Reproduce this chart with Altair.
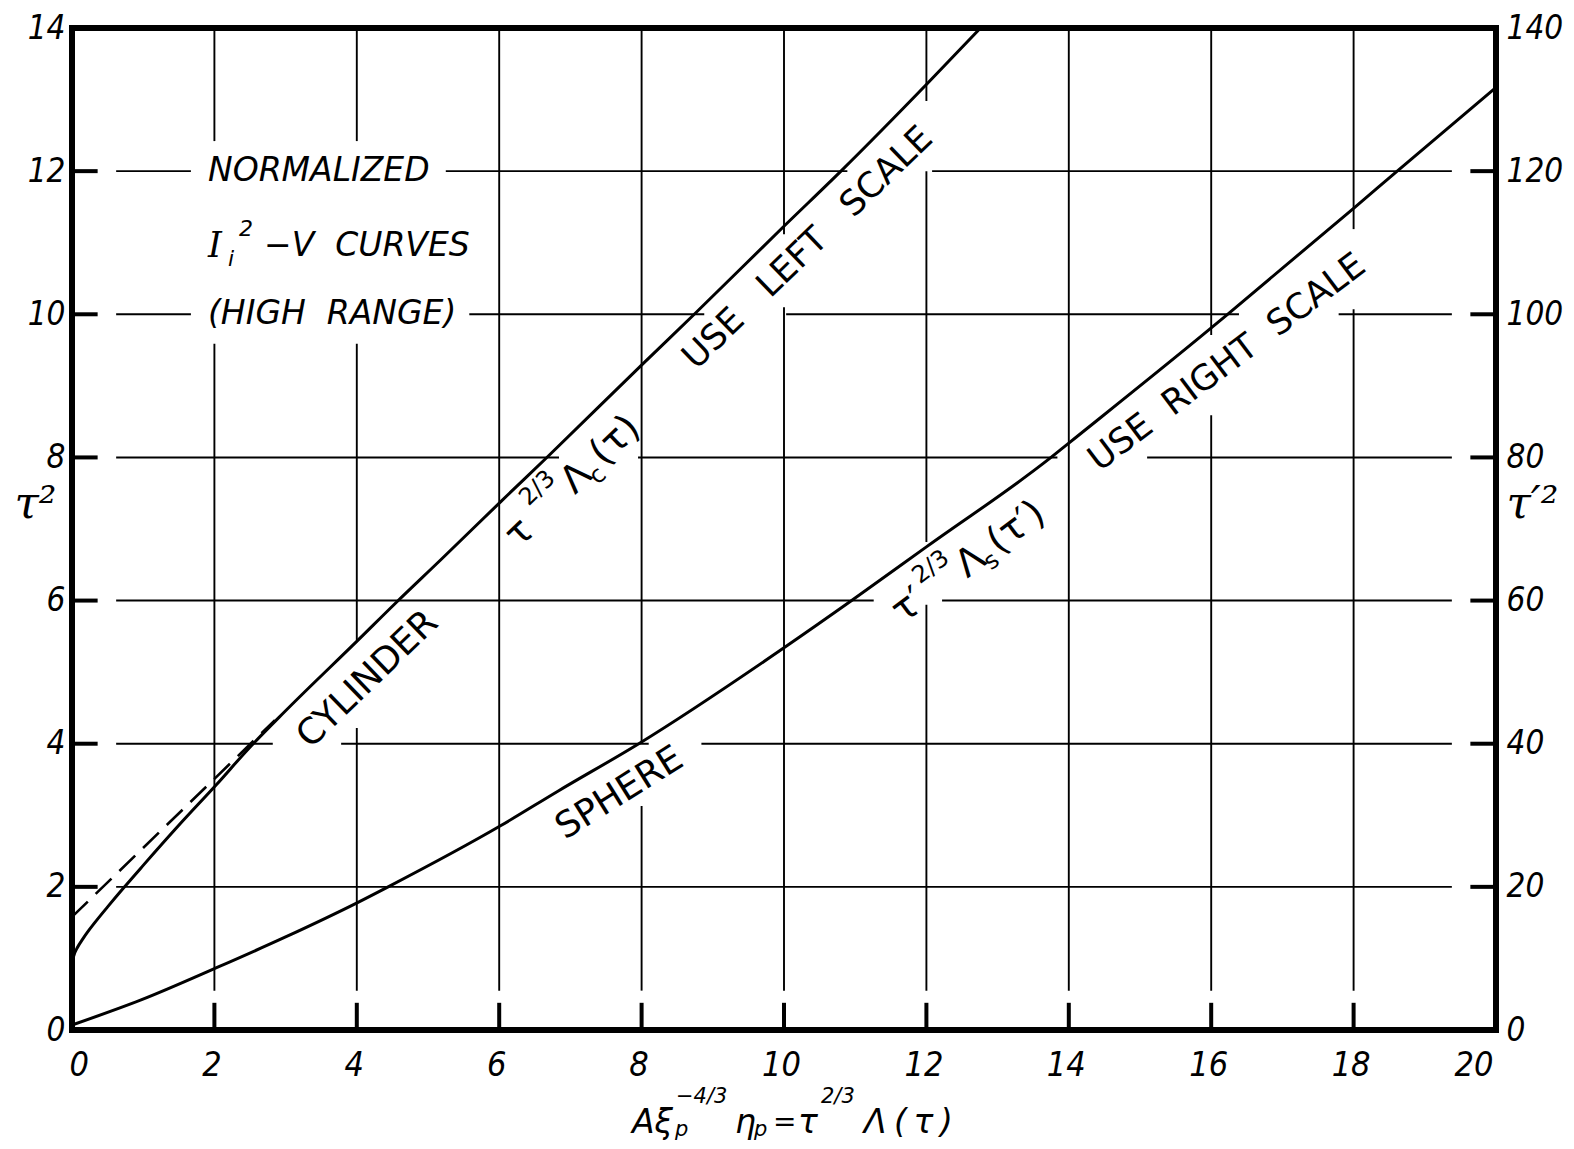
import altair as alt
import pandas as pd

# ---------------- data ----------------
# Cylinder curve (left scale, tau^2)
cyl_x = [0.0, 0.02, 0.08, 0.15, 0.22, 0.32, 0.5, 0.72, 1.0, 1.5, 2.03, 2.47, 3.0,
         4.01, 4.55, 5.18, 6.03, 6.68, 8.01, 8.74, 10.01, 10.8, 12.01, 12.76]
cyl_y = [0.93, 1.02, 1.16, 1.27, 1.37, 1.50, 1.72, 1.98, 2.30, 2.86, 3.43, 3.92, 4.46,
         5.44, 5.97, 6.57, 7.39, 8.01, 9.30, 10.0, 11.24, 12.0, 13.22, 14.0]
# Dashed asymptote of the cylinder curve (left scale)
asym_x = [0.0, 2.85]
asym_y = [1.58, 4.33]
# Sphere curve (right scale, tau'^2)
sph_x = [0.0, 0.97, 2.03, 3.0, 4.01, 4.44, 6.03, 6.83, 7.96, 10.0, 10.95, 12.0,
         13.75, 14.0, 16.0, 16.23, 18.0, 18.6, 20.0]
sph_y = [0.7, 4.2, 8.7, 13.0, 17.8, 20.0, 28.6, 33.4, 40.0, 53.4, 60.0, 67.5,
         80.0, 82.0, 98.1, 100.0, 114.8, 119.9, 131.7]

x_ticks = [0, 2, 4, 6, 8, 10, 12, 14, 16, 18, 20]
left_ticks = [0, 2, 4, 6, 8, 10, 12, 14]
right_ticks = [0, 20, 40, 60, 80, 100, 120, 140]

# Grid lines (hand-drawn, with gaps around the lettering)
grid_xs = [2, 4, 6, 8, 10, 12, 14, 16, 18]
grid_x_gaps = [[(9.59, 12.42)], [(4.22, 5.45), (9.59, 12.42)], [], [(3.13, 4.0)],
               [(10.1, 11.12)], [(5.94, 6.82), (12.0, 12.98)], [], [(8.59, 9.71)],
               [(10.07, 11.19)]]
grid_ys = [2, 4, 6, 8, 10, 12]
grid_y_gaps = [[], [(2.82, 3.78), (8.1, 8.84)], [(11.26, 12.22)],
               [(6.84, 7.95), (13.84, 15.1)],
               [(1.67, 5.58), (8.88, 10.03), (16.39, 17.79)],
               [(1.67, 5.25), (10.89, 12.08)]]
vgrid_span = (0.55, 14.0)
hgrid_span = (0.62, 19.38)
bottom_tick_span = (0.0, 0.38)
left_tick_span = (0.0, 0.36)
right_tick_span = (19.64, 20.0)

# ---------------- build tables ----------------
def split(lo, hi, gaps):
    segs, cur = [], lo
    for a, b in sorted(gaps):
        segs.append((cur, a))
        cur = b
    segs.append((cur, hi))
    return segs

vrows, hrows = [], []
for gx, gaps in zip(grid_xs, grid_x_gaps):
    for a, b in split(vgrid_span[0], vgrid_span[1], gaps):
        vrows.append({"x": gx, "y": a, "y2": b})
for gy, gaps in zip(grid_ys, grid_y_gaps):
    for a, b in split(hgrid_span[0], hgrid_span[1], gaps):
        hrows.append({"y": gy, "x": a, "x2": b})
vgrid = pd.DataFrame(vrows)
hgrid = pd.DataFrame(hrows)

vtick = pd.DataFrame({"x": grid_xs, "y": bottom_tick_span[0], "y2": bottom_tick_span[1]})
htick = pd.DataFrame(
    [{"y": gy, "x": left_tick_span[0], "x2": left_tick_span[1]} for gy in grid_ys]
    + [{"y": gy, "x": right_tick_span[0], "x2": right_tick_span[1]} for gy in grid_ys]
)

cyl = pd.DataFrame({"x": cyl_x, "y": cyl_y})
asym = pd.DataFrame({"x": asym_x, "y": asym_y})
sph = pd.DataFrame({"x": sph_x, "y": sph_y})

# ---------------- scales / axes ----------------
NUM_FONT = "Liberation Sans Narrow, DejaVu Sans Condensed, sans-serif"
TXT_FONT = "DejaVu Sans"
xs = alt.Scale(domain=[0, 20], nice=False, zero=False)
ys = alt.Scale(domain=[0, 14], nice=False, zero=False)
yr = alt.Scale(domain=[0, 140], nice=False, zero=False)

x_axis = alt.Axis(values=x_ticks, ticks=False, domain=False, grid=False,
                  labelPadding=18, labelOffset=-3, labelFont=NUM_FONT, labelFontSize=34,
                  labelFontStyle="italic", labelColor="black", title=None)
left_axis = alt.Axis(values=left_ticks, ticks=False, domain=False, grid=False,
                     labelPadding=7, labelFont=NUM_FONT, labelFontSize=33,
                     labelFontStyle="italic", labelColor="black",
                     title="τ²", titleAngle=0, titleFont="DejaVu Serif",
                     titleFontSize=44, titleFontStyle="italic", titleFontWeight="normal",
                     titleColor="black", titleX=-37, titleY=476, titleAlign="center",
                     titleBaseline="middle")
right_axis = alt.Axis(values=right_ticks, orient="right", ticks=False, domain=False,
                      grid=False, labelPadding=10, labelFont=NUM_FONT, labelFontSize=33,
                      labelFontStyle="italic", labelColor="black",
                      title="τ′²", titleAngle=0, titleFont="DejaVu Serif",
                      titleFontSize=44, titleFontStyle="italic", titleFontWeight="normal",
                      titleColor="black", titleX=36, titleY=476, titleAlign="center",
                      titleBaseline="middle")


def X(f="x"):
    return alt.X(f"{f}:Q", scale=xs, axis=x_axis)


def Y(f="y"):
    return alt.Y(f"{f}:Q", scale=ys, axis=left_axis)


grid_v = alt.Chart(vgrid).mark_rule(color="black", strokeWidth=1.9).encode(
    x=X(), y=Y(), y2="y2")
grid_h = alt.Chart(hgrid).mark_rule(color="black", strokeWidth=1.9).encode(
    y=Y(), x=X(), x2="x2")
ticks_v = alt.Chart(vtick).mark_rule(color="black", strokeWidth=4).encode(
    x=X(), y=Y(), y2="y2")
ticks_h = alt.Chart(htick).mark_rule(color="black", strokeWidth=4).encode(
    y=Y(), x=X(), x2="x2")

cyl_line = alt.Chart(cyl).mark_line(color="black", strokeWidth=3,
                                    interpolate="monotone").encode(x=X(), y=Y())
asym_line = alt.Chart(asym).mark_line(color="black", strokeWidth=2.6,
                                      strokeDash=[22, 11]).encode(x=X(), y=Y())


def txt(x, y, text, size, angle=0, dx=0, dy=0, align="center",
        font=TXT_FONT, style="normal", baseline="middle"):
    df = pd.DataFrame({"x": [x], "y": [y], "t": [text]})
    return alt.Chart(df).mark_text(
        fontSize=size, angle=angle, dx=dx, dy=dy, align=align, baseline=baseline,
        font=font, fontStyle=style, color="black").encode(x=X(), y=Y(), text="t:N")


NB = "\u00a0"
TH = "\u2009"
# annotation labels: (text, x, y, angle, size)
plain_labels = [
    ("USE" + NB * 3 + "LEFT" + NB * 3 + "SCALE", 10.33, 10.93, 316, 35),
    ("CYLINDER", 4.15, 4.9, 316, 36),
    ("SPHERE", 7.69, 3.31, 328, 36),
    ("USE" + NB * 2 + "RIGHT" + NB * 2 + "SCALE", 16.22, 9.33, 323, 35),
]
texts = [txt(x, y, t, s, angle=a) for (t, x, y, a, s) in plain_labels]

# top-left block
blk_x = 1.91
texts += [
    txt(blk_x, 12.0, "NORMALIZED", 33, align="left", style="italic"),
    txt(blk_x, 10.95, "I", 35, align="left", font="DejaVu Serif", style="italic"),
    txt(blk_x, 10.95, "2", 22, align="left", dx=31, dy=-17, style="italic"),
    txt(blk_x, 10.95, "i", 22, align="left", dx=20, dy=13, style="italic"),
    txt(blk_x, 10.95, "−V" + NB + NB + "CURVES", 33, align="left", dx=56, style="italic"),
    txt(blk_x, 10.0, "(HIGH" + NB + NB + "RANGE)", 33, align="left", style="italic"),
]

# tau^{2/3} Lambda_c(tau) along the cylinder curve
cx, cy, ca = 6.29, 6.94, 316
texts += [
    txt(cx, cy, "τ", 38, angle=ca),
    txt(cx, cy, "2/3", 24, angle=ca, dx=44, dy=-20),
    txt(cx, cy, "Λ", 38, angle=ca, dx=79),
    txt(cx, cy, "c", 24, angle=ca, dx=96, dy=13),
    txt(cx, cy, "(τ)", 38, angle=ca, dx=133),
]
# tau'^{2/3} Lambda_s(tau') along the sphere curve
sx, sy, sa = 11.69, 5.87, 323
texts += [
    txt(sx, sy, "τ′", 38, angle=sa, dx=6),
    txt(sx, sy, "2/3", 24, angle=sa, dx=47, dy=-18),
    txt(sx, sy, "Λ", 38, angle=sa, dx=82, dy=2),
    txt(sx, sy, "s", 24, angle=sa, dx=99, dy=14),
    txt(sx, sy, "(τ′)", 38, angle=sa, dx=139, dy=2),
]

# x-axis title  A xi_p^{-4/3} eta_p = tau^{2/3} Lambda(tau), set below the axis
tx, ty = 7.865, -1.44
title_parts = [  # (text, size, dx, dy)
    ("Aξ", 33, 0, 0),
    ("p", 21, 43, 3),
    ("−4/3", 21, 44, -30),
    ("η", 33, 103, 0),
    ("p", 21, 122, 3),
    ("=", 28, 141, -2),
    ("τ", 33, 166, 0),
    ("2/3", 21, 189, -30),
    ("Λ", 33, 232, 0),
    ("(" + TH + "τ" + TH + ")", 33, 262, 0),
]
texts += [txt(tx, ty, t, s, dx=dx, dy=dy, align="left", style="italic",
              baseline="alphabetic") for (t, s, dx, dy) in title_parts]

left_group = alt.layer(grid_v, grid_h, ticks_v, ticks_h, cyl_line, asym_line, *texts)

sph_line = alt.Chart(sph).mark_line(color="black", strokeWidth=3,
                                    interpolate="monotone").encode(
    x=X(), y=alt.Y("y:Q", scale=yr, axis=right_axis))

chart = alt.layer(left_group, sph_line).resolve_scale(y="independent").properties(
    width=1424, height=1002,
    autosize=alt.AutoSizeParams(type="none"),
    padding={"left": 64, "top": 20, "right": 70, "bottom": 110},
    background="white",
).configure_view(stroke="black", strokeWidth=6)

chart.save("out.html", embed_options={"renderer": "svg", "actions": False})
